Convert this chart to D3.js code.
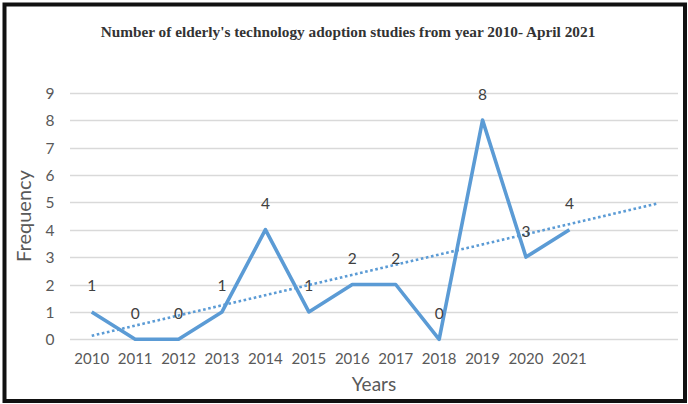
<!DOCTYPE html>
<html>
<head>
<meta charset="utf-8">
<script src="https://cdnjs.cloudflare.com/ajax/libs/d3/7.8.5/d3.min.js"></script>
<style>
  html, body { margin: 0; padding: 0; background: #fff; }
  svg { display: block; }
</style>
</head>
<body>
<div id="chart"></div>
<script>
// categories on the x axis (two empty slots at the end, trendline forecast)
var years = ['2010', '2011', '2012', '2013', '2014', '2015', '2016', '2017', '2018', '2019', '2020', '2021'];
var extraSlots = ['', ''];
// number of studies per year
var studies = [1, 0, 0, 1, 4, 1, 2, 2, 0, 8, 3, 4];
var yTicks = [0, 1, 2, 3, 4, 5, 6, 7, 8, 9];

var width = 688;
var height = 404;
var margin = { top: 92.7, right: 8, bottom: 64.7, left: 70 };
var blue = '#5b9bd5';
var grey = '#595959';

var svg = d3.select('#chart')
  .append('svg')
  .attr('width', width)
  .attr('height', height);

// outer frame
svg.append('rect')
  .attr('x', 4.5)
  .attr('y', 4.5)
  .attr('width', 680.5)
  .attr('height', 396.5)
  .attr('fill', '#fff')
  .attr('stroke', '#111')
  .attr('stroke-width', 4);

var allSlots = years.concat(extraSlots.map((d, i) => 'extra' + i));

var x = d3.scaleBand()
  .domain(allSlots)
  .range([margin.left, width - margin.right - 2])
  .padding(0);

var y = d3.scaleLinear()
  .domain([0, 9])
  .range([height - margin.bottom, margin.top]);

var cx = d => x(d) + x.bandwidth() / 2;

// gridlines
svg.append('g')
  .selectAll('line')
  .data(yTicks)
  .join('line')
  .attr('x1', margin.left)
  .attr('x2', width - margin.right - 2)
  .attr('y1', d => Math.round(y(d)) + 0.5)
  .attr('y2', d => Math.round(y(d)) + 0.5)
  .attr('stroke', '#d9d9d9')
  .attr('stroke-width', 1.3);

// y axis labels
var yAxis = svg.append('g')
  .attr('transform', 'translate(' + (margin.left - 16) + ',0)')
  .call(d3.axisLeft(y).tickValues(yTicks).tickSize(0).tickPadding(0));
yAxis.select('.domain').remove();
yAxis.selectAll('text')
  .attr('fill', grey)
  .style('font-family', 'Lato, "Open Sans", sans-serif')
  .style('font-size', '15.5px')
  .attr('text-anchor', 'middle')
  .attr('dx', -4)
  .attr('dy', '0.36em');

// x axis labels
var xAxis = svg.append('g')
  .attr('transform', 'translate(0,' + (height - margin.bottom + 19) + ')')
  .call(d3.axisBottom(x).tickValues(years).tickSize(0).tickPadding(0));
xAxis.select('.domain').remove();
xAxis.selectAll('text')
  .attr('fill', grey)
  .style('font-family', 'Lato, "Open Sans", sans-serif')
  .style('font-size', '15px')
  .attr('dy', '0.36em');

// trendline (least squares, forecast forward two periods)
var n = studies.length;
var xm = d3.mean(studies, (d, i) => i);
var ym = d3.mean(studies);
var sxy = d3.sum(studies, (d, i) => (i - xm) * (d - ym));
var sxx = d3.sum(studies, (d, i) => (i - xm) * (i - xm));
var slope = sxy / sxx;
var intercept = ym - slope * xm;
var trendEnd = n - 1 + extraSlots.length;

svg.append('line')
  .attr('x1', cx(allSlots[0]))
  .attr('y1', y(intercept))
  .attr('x2', cx(allSlots[trendEnd]))
  .attr('y2', y(intercept + slope * trendEnd))
  .attr('stroke', blue)
  .attr('stroke-width', 2.6)
  .attr('stroke-dasharray', '2.6,2.6');

// main series
var line = d3.line()
  .x((d, i) => cx(years[i]))
  .y(d => y(d));

svg.append('path')
  .datum(studies)
  .attr('d', line)
  .attr('fill', 'none')
  .attr('stroke', blue)
  .attr('stroke-width', 3.6)
  .attr('stroke-linejoin', 'round');

// data labels
svg.append('g')
  .selectAll('text')
  .data(studies)
  .join('text')
  .attr('x', (d, i) => cx(years[i]))
  .attr('y', d => y(d) - 26)
  .attr('dy', '0.36em')
  .attr('text-anchor', 'middle')
  .attr('fill', '#404040')
  .style('font-family', 'Lato, "Open Sans", sans-serif')
  .style('font-size', '15.5px')
  .text(d => d);

// axis titles
svg.append('text')
  .attr('transform', 'translate(24,' + 216 + ') rotate(-90)')
  .attr('text-anchor', 'middle')
  .attr('dy', '0.36em')
  .attr('fill', grey)
  .style('font-family', 'Lato, "Open Sans", sans-serif')
  .style('font-size', '20px')
  .text('Frequency');

svg.append('text')
  .attr('x', (margin.left + width - margin.right - 2) / 2)
  .attr('y', 384)
  .attr('text-anchor', 'middle')
  .attr('dy', '0.36em')
  .attr('fill', grey)
  .style('font-family', 'Lato, "Open Sans", sans-serif')
  .style('font-size', '19px')
  .text('Years');

// chart title
svg.append('text')
  .attr('x', 348)
  .attr('y', 31)
  .attr('text-anchor', 'middle')
  .attr('dy', '0.36em')
  .attr('fill', '#333')
  .style('font-family', '"Liberation Serif", "Times New Roman", serif')
  .style('font-weight', 'bold')
  .style('font-size', '15.3px')
  .text("Number of elderly's technology adoption studies from year 2010- April 2021");
</script>
</body>
</html>
